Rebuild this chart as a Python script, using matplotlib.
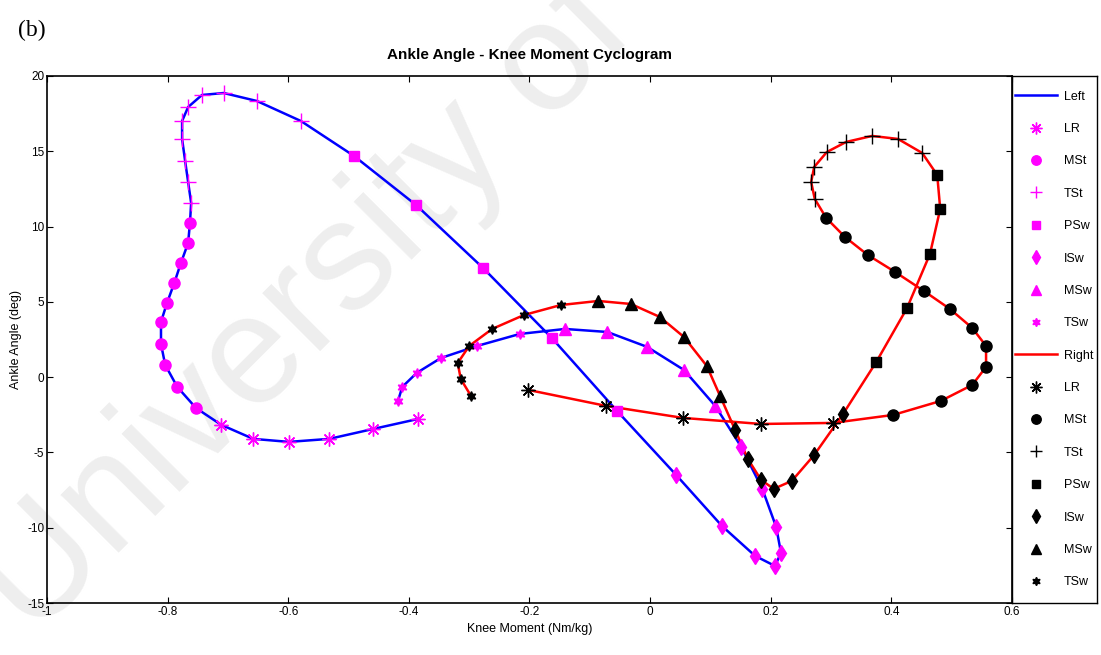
import numpy as np
import matplotlib
matplotlib.use("Agg")
from matplotlib import pyplot as plt
from matplotlib.lines import Line2D

plt.rcParams['font.family'] = ['Liberation Sans Narrow', 'Liberation Sans', 'DejaVu Sans']
plt.rcParams['axes.unicode_minus'] = False

phases = ['LR', 'MSt', 'TSt', 'PSw', 'ISw', 'MSw', 'TSw']
markers = {'LR': (8, 2, 0), 'MSt': 'o', 'TSt': '+', 'PSw': 's', 'ISw': 'd', 'MSw': '^', 'TSw': (6, 1, 0)}
msizes = {'LR': 10, 'MSt': 8, 'TSt': 11, 'PSw': 7, 'ISw': 8, 'MSw': 8, 'TSw': 7}

# left limb: knee moment (x) / ankle angle (y) per gait phase
left_x = {
    'LR': [-0.385, -0.459, -0.532, -0.599, -0.658, -0.711],
    'MSt': [-0.753, -0.784, -0.804, -0.811, -0.811, -0.801, -0.789, -0.778, -0.766, -0.763],
    'TSt': [-0.761, -0.766, -0.771, -0.776, -0.776, -0.766, -0.743, -0.707, -0.652, -0.579],
    'PSw': [-0.491, -0.388, -0.277, -0.163, -0.055],
    'ISw': [0.043, 0.119, 0.174, 0.207, 0.217, 0.209, 0.186, 0.151],
    'MSw': [0.108, 0.056, -0.005, -0.071, -0.141],
    'TSw': [-0.216, -0.287, -0.347, -0.387, -0.411, -0.418],
}
left_y = {
    'LR': [-2.78, -3.44, -4.10, -4.30, -4.10, -3.17],
    'MSt': [-2.05, -0.65, 0.81, 2.20, 3.67, 4.93, 6.25, 7.58, 8.91, 10.24],
    'TSt': [11.57, 12.96, 14.36, 15.82, 17.01, 17.94, 18.74, 18.87, 18.34, 17.01],
    'PSw': [14.69, 11.43, 7.25, 2.60, -2.24],
    'ISw': [-6.49, -9.88, -11.87, -12.54, -11.67, -9.95, -7.42, -4.63],
    'MSw': [-1.91, 0.48, 2.01, 3.00, 3.20],
    'TSw': [2.87, 2.07, 1.27, 0.28, -0.65, -1.58],
}

# right limb
right_x = {
    'LR': [-0.202, -0.073, 0.055, 0.184, 0.303],
    'MSt': [0.403, 0.482, 0.534, 0.557, 0.557, 0.534, 0.497, 0.454, 0.406, 0.361, 0.323, 0.292],
    'TSt': [0.273, 0.267, 0.272, 0.293, 0.325, 0.368, 0.411, 0.451],
    'PSw': [0.476, 0.481, 0.464, 0.426, 0.375],
    'ISw': [0.320, 0.272, 0.235, 0.205, 0.184, 0.162, 0.141],
    'MSw': [0.116, 0.094, 0.056, 0.016, -0.032, -0.086],
    'TSw': [-0.148, -0.209, -0.262, -0.300, -0.319, -0.314, -0.297],
}
right_y = {
    'LR': [-0.85, -1.91, -2.71, -3.11, -3.04],
    'MSt': [-2.51, -1.58, -0.52, 0.68, 2.07, 3.27, 4.53, 5.72, 6.99, 8.11, 9.31, 10.57],
    'TSt': [11.83, 12.96, 13.96, 14.95, 15.62, 16.02, 15.82, 14.89],
    'PSw': [13.43, 11.17, 8.18, 4.59, 1.01],
    'ISw': [-2.44, -5.17, -6.89, -7.42, -6.83, -5.43, -3.51],
    'MSw': [-1.25, 0.74, 2.67, 4.00, 4.86, 5.06],
    'TSw': [4.79, 4.13, 3.20, 2.07, 0.94, -0.12, -1.25],
}

W, H = 1101, 655
fig = plt.figure(figsize=(W / 100, H / 100), dpi=100)

# faint watermark behind everything
fig.text(0.05, -0.01, 'University of Malaya', rotation=45, fontsize=112,
         family=['Liberation Sans', 'DejaVu Sans'], color='#eeeeee',
         ha='left', va='bottom', zorder=-5, rotation_mode='anchor')

ax = fig.add_axes([47 / W, 1 - 603 / H, (1012 - 47) / W, (603 - 76) / H])
ax.patch.set_alpha(0)


def draw_limb(xd, yd, line_color, mark_color):
    xs = np.concatenate([xd[p] for p in phases])
    ys = np.concatenate([yd[p] for p in phases])
    ax.plot(xs, ys, color=line_color, lw=1.8, zorder=2)
    for p in phases:
        ax.plot(xd[p], yd[p], ls='none', marker=markers[p], ms=msizes[p],
                color=mark_color, mec=mark_color, mew=1.0, zorder=3)


draw_limb(left_x, left_y, '#0000ff', '#ff00ff')
draw_limb(right_x, right_y, '#ff0000', 'black')

ax.set_xlim(-1, 0.6)
ax.set_ylim(-15, 20)
ax.set_xticks(np.arange(-1, 0.61, 0.2))
ax.set_xticklabels(['-1', '-0.8', '-0.6', '-0.4', '-0.2', '0', '0.2', '0.4', '0.6'])
ax.set_yticks(np.arange(-15, 21, 5))
ax.tick_params(direction='in', top=True, right=True, length=4, width=0.8, labelsize=8.5, pad=2)
for s in ax.spines.values():
    s.set_linewidth(1.2)

ax.set_xlabel('Knee Moment (Nm/kg)', fontsize=9, labelpad=4)
ax.set_ylabel('Ankle Angle (deg)', fontsize=9, family=['Liberation Sans', 'DejaVu Sans'], labelpad=4)
ax.set_title('Ankle Angle - Knee Moment Cyclogram', fontsize=11, fontweight='bold', pad=12)

fig.text(18 / W, 1 - 36 / H, '(b)', fontsize=17, family=['Liberation Serif', 'DejaVu Serif'])

# legend box on the right side
lax = fig.add_axes([1012 / W, 1 - 603 / H, (1097 - 1012) / W, (603 - 76) / H])
lax.patch.set_alpha(0)
lax.set_xticks([])
lax.set_yticks([])
for s in lax.spines.values():
    s.set_linewidth(1.0)

handles = [Line2D([], [], color='#0000ff', lw=1.8, label='Left')]
for p in phases:
    handles.append(Line2D([], [], ls='none', marker=markers[p], ms=msizes[p] * 0.85,
                          color='#ff00ff', mec='#ff00ff', label=p))
handles.append(Line2D([], [], color='#ff0000', lw=1.8, label='Right'))
for p in phases:
    handles.append(Line2D([], [], ls='none', marker=markers[p], ms=msizes[p] * 0.85,
                          color='black', mec='black', label=p))

lax.legend(handles=handles, loc='center', frameon=False, fontsize=9,
           labelspacing=1.63, handlelength=3.3, handletextpad=0.6, borderaxespad=0)

fig.savefig('out.png', dpi=100)
